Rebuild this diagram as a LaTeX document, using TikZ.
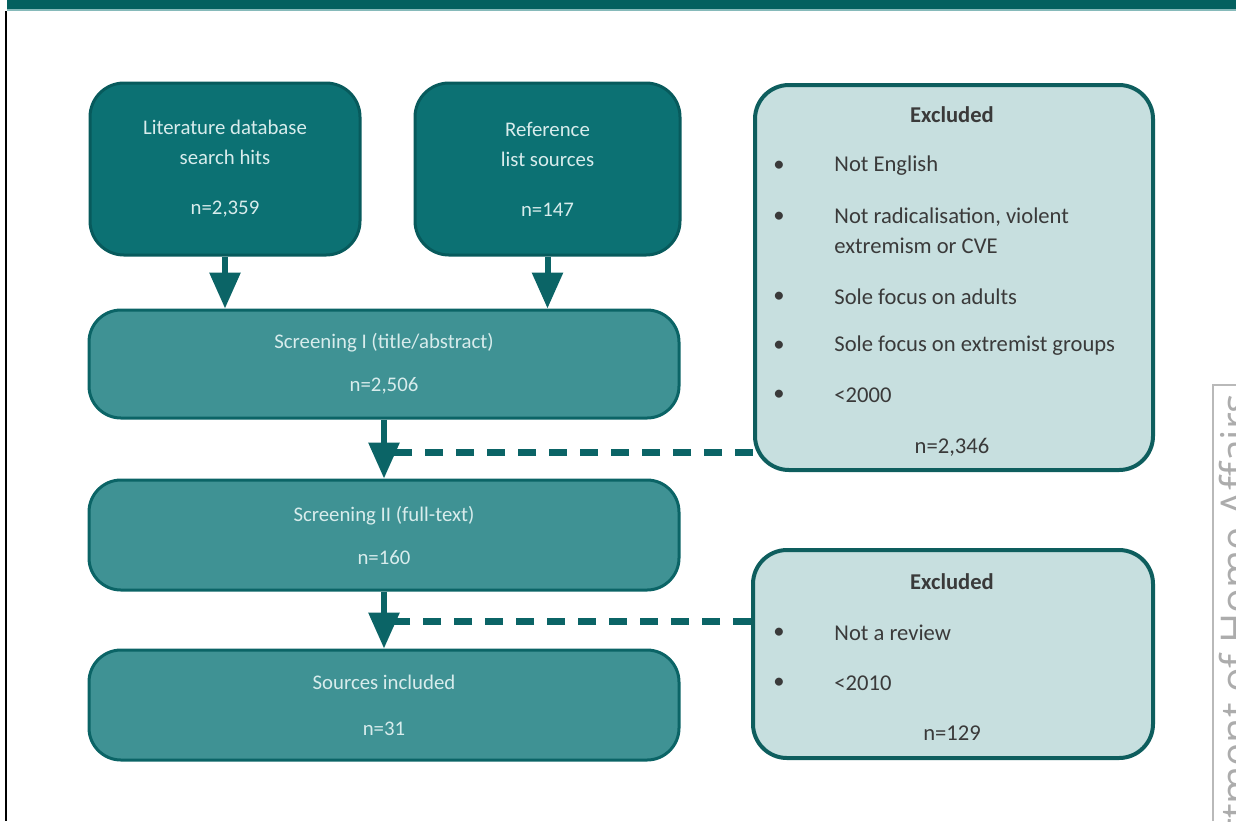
\documentclass[tikz,border=0pt]{standalone}
\usepackage{fontspec}
\setmainfont{Carlito}
\newfontfamily\deptfont{Open Sans}
\usetikzlibrary{arrows.meta,positioning}
\definecolor{hdrteal}{HTML}{03605F}
\definecolor{hdrline}{HTML}{86BABA}
\definecolor{darkteal}{HTML}{0C7173}
\definecolor{darkedge}{HTML}{075A5C}
\definecolor{midteal}{HTML}{3F9294}
\definecolor{midedge}{HTML}{0B6466}
\definecolor{paleteal}{HTML}{C7DFDF}
\definecolor{paleedge}{HTML}{0E5E5E}
\definecolor{boxtext}{HTML}{D8ECEC}
\definecolor{listtext}{HTML}{3A3A3A}

\begin{document}
\begin{tikzpicture}[x=0.5pt,y=-0.5pt,
    font=\fontsize{10.4}{15}\selectfont,
    srcbox/.style={draw=darkedge,line width=1.5pt,fill=darkteal,text=boxtext,
      rounded corners=17pt,align=center,inner sep=0pt,minimum height=86pt},
    screenbox/.style={draw=midedge,line width=1.5pt,fill=midteal,text=boxtext,
      rounded corners=16pt,align=center,inner sep=0pt,minimum width=295pt},
    exclbox/.style={draw=paleedge,line width=2pt,fill=paleteal,rounded corners=17pt},
    excltext/.style={text=listtext,font=\fontsize{11.3}{14}\selectfont},
    exclitem/.style={excltext,anchor=west,inner sep=0pt},
    flowarrow/.style={draw=midedge,line width=3pt,-{Triangle[length=18pt,width=15pt]}},
    exclline/.style={draw=midedge,line width=3.5pt,dash pattern=on 9pt off 6.5pt}]
    \useasboundingbox (0,0) rectangle (1236,821);
    \clip (0,0) rectangle (1236,821);
    % page frame
    \fill[hdrteal] (7,0) rectangle (1236,9);
    \draw[hdrline,line width=0.6pt] (7,10) -- (1236,10);
    \draw[line width=1pt] (6,11) -- (6,821);
    \draw[gray!55,line width=0.75pt] (1213,821) -- (1213,385) -- (1236,385);
    \node[rotate=90,anchor=base east,inner sep=0pt,text=gray!65,
      font=\deptfont\fontsize{20.5}{20.5}\selectfont] (dept) at (1250,393) {Department of Home Affairs};

    % sources
    \node[srcbox,minimum width=135pt] (hits) at (225,169) {Literature database\\search hits\\[10pt]n=2,359};
    \node[srcbox,minimum width=132.5pt] (refs) at (547.5,169) {Reference\\list sources\\[10pt]n=147};

    % screening
    \node[screenbox,minimum height=54pt] (scr1) at (384,364) {Screening I (title/abstract)\\[6.5pt]n=2,506};
    \node[screenbox,minimum height=55pt] (scr2) at (384,535) {Screening II (full-text)\\[6.5pt]n=160};
    \node[screenbox,minimum height=55pt] (incl) at (384,705) {Sources included\\[8pt]n=31};

    % exclusions
    \node[exclbox,minimum width=199pt,minimum height=192.5pt] (excl1) at (954,277.5) {};
    \node[excltext,font=\fontsize{11.3}{14}\selectfont\bfseries] (excl1head) at (952,115) {Excluded};
    \foreach \yy in {166,217,297,346,395}
      \node[excltext] at (779,\yy) {\textbullet};
    \node[exclitem] (ea1) at (834,166) {Not English};
    \node[exclitem] (ea2) at (834,217) {Not radicalisation, violent};
    \node[exclitem] (ea3) at (834,246) {extremism or CVE};
    \node[exclitem] (ea4) at (834,297) {Sole focus on adults};
    \node[exclitem] (ea5) at (834,346) {Sole focus on extremist groups};
    \node[exclitem] (ea6) at (834,395) {<2000};
    \node[excltext] (excl1n) at (952,447) {n=2,346};

    \node[exclbox,minimum width=200pt,minimum height=104pt] (excl2) at (953,654) {};
    \node[excltext,font=\fontsize{11.3}{14}\selectfont\bfseries] (excl2head) at (952,582) {Excluded};
    \foreach \yy in {633,683}
      \node[excltext] at (779,\yy) {\textbullet};
    \node[exclitem] (eb1) at (834,633) {Not a review};
    \node[exclitem] (eb2) at (834,683) {<2010};
    \node[excltext] (excl2n) at (952,733) {n=129};

    % connectors
    \draw[flowarrow] (hits.south) -- (hits.south |- scr1.north);
    \draw[flowarrow] (refs.south) -- (refs.south |- scr1.north);
    \draw[flowarrow] (scr1.south) -- (scr2.north);
    \draw[flowarrow] (scr2.south) -- (incl.north);
    \coordinate (join1) at (384,452);
    \coordinate (join2) at (384,621);
    \draw[exclline] (excl1.west |- join1) -- (join1);
    \draw[exclline] (excl2.west |- join2) -- (join2);
\end{tikzpicture}
\end{document}
